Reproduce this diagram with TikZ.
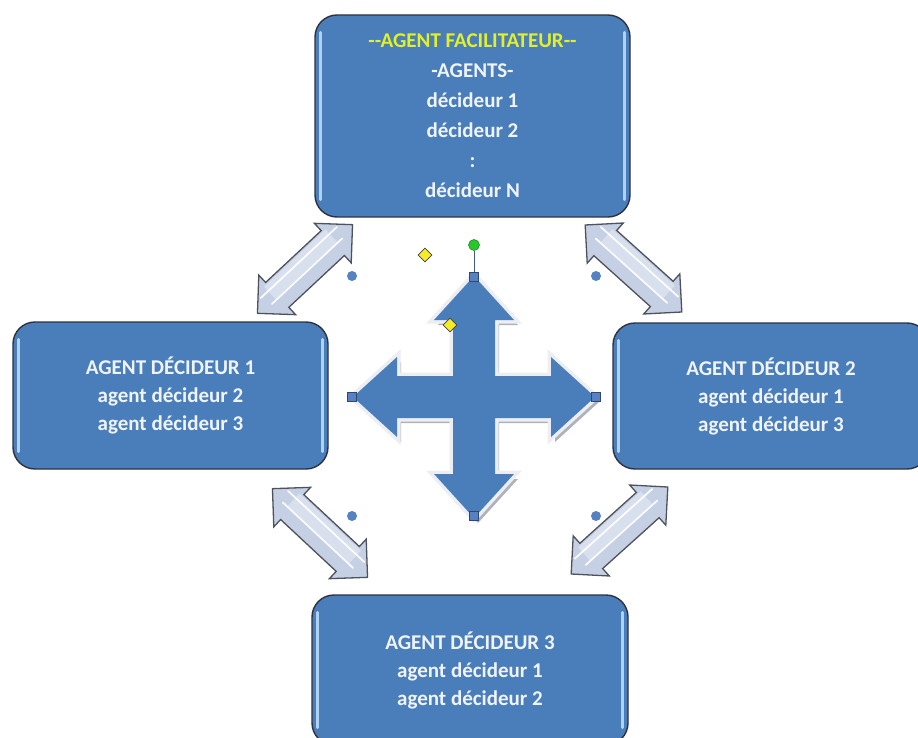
\documentclass[tikz,border=0pt]{standalone}
\usepackage{fontspec}
\setmainfont{Carlito}[Ligatures=TeXOff]
\usetikzlibrary{shapes.geometric}

\definecolor{boxblue}{RGB}{74,126,187}
\definecolor{boxedge}{RGB}{45,50,62}
\definecolor{hilite}{RGB}{175,210,242}
\definecolor{boxtext}{RGB}{240,244,250}
\definecolor{titleyellow}{RGB}{226,240,36}
\definecolor{bevel}{RGB}{236,238,244}
\definecolor{crossshadow}{RGB}{175,178,185}
\definecolor{arrowfill}{RGB}{198,208,228}
\definecolor{arrowedge}{RGB}{78,82,92}
\definecolor{handleblue}{RGB}{86,130,196}
\definecolor{handlegreen}{RGB}{40,200,40}
\definecolor{handleyellow}{RGB}{245,235,40}

% outline of the four-way arrow, centred on the origin (y grows downwards)
\def\crossoutline{(0,-121) -- (40,-77) -- (21,-77) -- (21,-21) -- (77,-21) -- (77,-40)
  -- (121,0) -- (77,40) -- (77,21) -- (21,21) -- (21,77) -- (40,77)
  -- (0,121) -- (-40,77) -- (-21,77) -- (-21,21) -- (-77,21) -- (-77,40)
  -- (-121,0) -- (-77,-40) -- (-77,-21) -- (-21,-21) -- (-21,-77) -- (-40,-77) -- cycle}

\tikzset{
  agentbox/.style={draw=boxedge, line width=1.4pt, fill=boxblue,
    rounded corners=22pt, align=center, text=boxtext, inner sep=0pt,
    font=\bfseries\fontsize{21}{28}\selectfont},
  hiliteline/.style={draw=hilite, line width=2.6pt, line cap=round},
  dblarrow/.pic={
    \path[fill=arrowfill, draw=arrowedge, line width=1.3pt, line join=miter]
      (-65,0) -- (-38,-27) -- (-38,-17) -- (38,-17) -- (38,-27) -- (65,0)
      -- (38,27) -- (38,17) -- (-38,17) -- (-38,27) -- cycle;
    \fill[white, opacity=0.35] (-42,-15) rectangle (42,2);
    \draw[white, line width=1.8pt, opacity=0.9, line cap=round] (-52,-9) -- (52,-9);
    \draw[white, line width=1.8pt, opacity=0.9, line cap=round] (-48,3) -- (48,3);
  },
  quadarrow/.pic={
    \path[fill=crossshadow, shift={(4,5)}] \crossoutline;
    \path[draw=bevel, line width=7pt, line join=miter, miter limit=6] \crossoutline;
    \path[fill=boxblue] \crossoutline;
  },
  sizehandle/.style={rectangle, minimum size=9pt, inner sep=0pt,
    fill=handleblue, draw=handleblue!55!black, line width=0.5pt},
  cornerdot/.style={circle, minimum size=10pt, inner sep=0pt, fill=handleblue},
  rothandle/.style={circle, minimum size=11pt, inner sep=0pt,
    fill=handlegreen, draw=handlegreen!60!black, line width=0.5pt},
  adjhandle/.style={diamond, minimum size=14pt, inner sep=0pt,
    fill=handleyellow, draw=black!75, line width=0.6pt},
}

\begin{document}
\begin{tikzpicture}[x=1pt, y=-1pt]
\useasboundingbox (0,0) rectangle (918,738);
\clip (0,0) rectangle (918,738);
\fill[white] (0,0) rectangle (918,738);

% agent boxes
\node[agentbox, minimum width=315pt, minimum height=202pt,
      font=\bfseries\fontsize{21}{30}\selectfont] (facil) at (472.5,116)
  {{\color{titleyellow}--AGENT FACILITATEUR--}\\-AGENTS-\\décideur 1\\décideur 2\\:\\décideur N};
\node[agentbox, minimum width=315pt, minimum height=147pt] (dec1) at (170.5,395.5)
  {AGENT DÉCIDEUR 1\\agent décideur 2\\agent décideur 3};
\node[agentbox, minimum width=316pt, minimum height=146pt] (dec2) at (771,396)
  {AGENT DÉCIDEUR 2\\agent décideur 1\\agent décideur 3};
\node[agentbox, minimum width=316pt, minimum height=150pt] (dec3) at (470,670)
  {AGENT DÉCIDEUR 3\\agent décideur 1\\agent décideur 2};

% glossy edge highlights
\foreach \b in {facil,dec1,dec2,dec3} {
  \draw[hiliteline] ([xshift=6pt,yshift=-18pt]\b.north west) -- ([xshift=6pt,yshift=18pt]\b.south west);
  \draw[hiliteline] ([xshift=-6pt,yshift=-18pt]\b.north east) -- ([xshift=-6pt,yshift=18pt]\b.south east);
}

% two-headed block arrows between the boxes
\path (305,269) pic[rotate=43] {dblarrow};
\path (633.5,268.5) pic[rotate=-42] {dblarrow};
\path (320,533) pic[rotate=-43] {dblarrow};
\path (619.5,530.5) pic[rotate=42] {dblarrow};

% central four-way arrow
\path (474,397) pic {quadarrow};

% selection handles
\node[cornerdot] (dnw) at (352,276) {};
\node[cornerdot] (dne) at (596,276) {};
\node[cornerdot] (dsw) at (352,516) {};
\node[cornerdot] (dse) at (596,516) {};
\node[rothandle] (rot) at (474,245) {};
\node[sizehandle] (hn) at (474,277) {};
\node[sizehandle] (hw) at (352,397) {};
\node[sizehandle] (he) at (596,397) {};
\node[sizehandle] (hs) at (474,516) {};
\draw[handleblue!70!black, line width=0.8pt] (rot) -- (hn);
\node[adjhandle] (adj1) at (425,255) {};
\node[adjhandle] (adj2) at (450,325) {};
\end{tikzpicture}
\end{document}
